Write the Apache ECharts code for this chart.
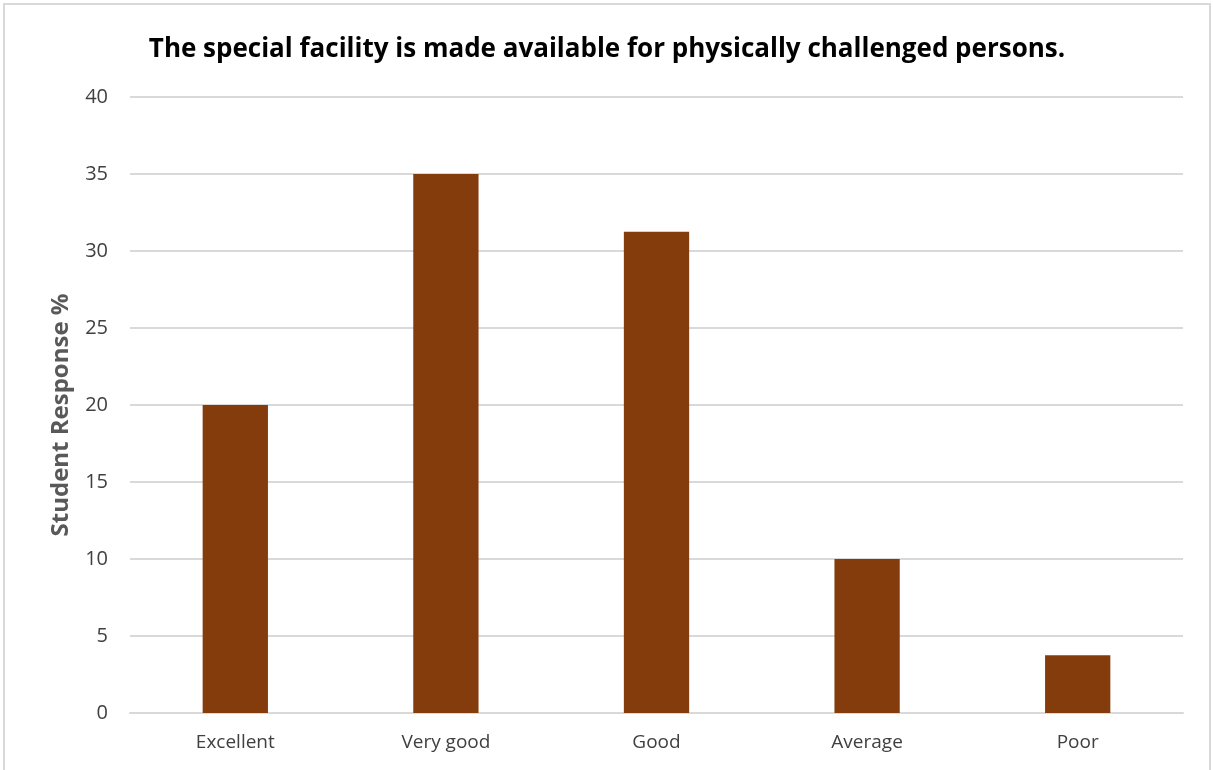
<!DOCTYPE html>
<html>
<head>
<meta charset="utf-8">
<script src="https://cdn.jsdelivr.net/npm/echarts@6/dist/echarts.min.js"></script>
<style>
  html, body { margin: 0; padding: 0; background: #fff; }
  #chart { box-sizing: border-box; border: 2px solid #d9d9d9; border-bottom: none; margin: 3px 0 0 3px; width: 1208px; height: 767px; }
</style>
</head>
<body>
<div id="chart"></div>
<script>
// chart data
const categories = ['Excellent', 'Very good', 'Good', 'Average', 'Poor'];
const responses = [20, 35, 31.25, 10, 3.75];
const yTicks = { min: 0, max: 40, interval: 5 };

const chart = echarts.init(document.getElementById('chart'));

const options = {
  animation: false,
  title: {
    text: 'The special facility is made available for physically challenged persons.',
    left: 'center',
    top: 27,
    textStyle: { fontFamily: 'Open Sans', fontWeight: 'bold', fontSize: 26, color: '#000' }
  },
  grid: { left: 125, right: 26, top: 92, bottom: 57 },
  xAxis: {
    type: 'category',
    data: categories,
    axisLine: { lineStyle: { color: '#d9d9d9', width: 2 } },
    axisTick: { show: false },
    axisLabel: { color: '#404040', fontSize: 19, fontFamily: 'Open Sans', margin: 20 }
  },
  yAxis: {
    type: 'value',
    min: yTicks.min,
    max: yTicks.max,
    interval: yTicks.interval,
    name: 'Student Response %',
    nameLocation: 'middle',
    nameGap: 57,
    nameTextStyle: { color: '#595959', fontSize: 24, fontWeight: 'bold', fontFamily: 'Open Sans', padding: [0, 20, 0, 0] },
    axisLine: { show: false },
    axisTick: { show: false },
    splitLine: { lineStyle: { color: '#d9d9d9', width: 2 } },
    axisLabel: { color: '#404040', fontSize: 20, fontFamily: 'Open Sans', margin: 22 }
  },
  series: [
    {
      type: 'bar',
      data: responses,
      barWidth: '31%',
      itemStyle: { color: '#843c0c' }
    }
  ]
};

chart.setOption(options);
</script>
</body>
</html>
